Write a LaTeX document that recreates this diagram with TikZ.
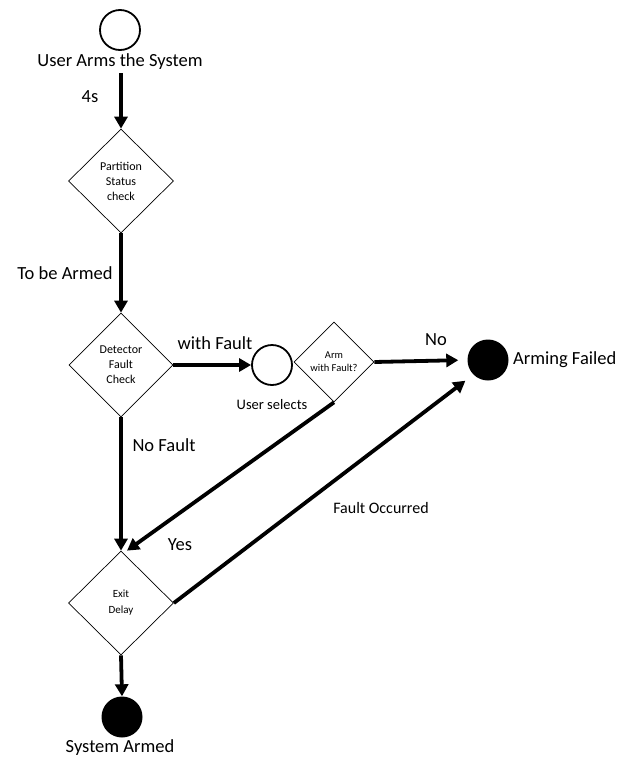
\documentclass[tikz,border=0pt]{standalone}
\usepackage{fontspec}
\setmainfont{Carlito}
\usetikzlibrary{shapes.geometric,arrows.meta,calc}
\tikzset{
  dia/.style={draw, line width=0.7pt, diamond, aspect=1, inner sep=0pt, align=center, font=\fontsize{12}{15}\selectfont},
  startc/.style={draw, circle, line width=1.8pt, minimum size=40pt, inner sep=0pt},
  endc/.style={fill=black, circle, minimum size=41pt, inner sep=0pt},
  flow/.style={line width=3.8pt, -{Triangle[length=12pt,width=13pt]}},
  big/.style={font=\fontsize{18.5}{20}\selectfont, inner sep=0pt},
  mid/.style={font=\fontsize{16}{18}\selectfont, inner sep=0pt},
  small/.style={font=\fontsize{14.5}{16}\selectfont, inner sep=0pt},
}
\begin{document}
\begin{tikzpicture}[x=1pt,y=-1pt]
\useasboundingbox (0,0) rectangle (619,758);
% start
\node[startc] (start) at (120,30) {};
\node[big] (startlbl) at (120,62) {User Arms the System};
% diamonds
\node[dia, minimum width=105pt, minimum height=104pt] (d1) at (121,181) {Partition\\Status\\check};
\node[dia, minimum width=104pt, minimum height=104pt] (d2) at (121,365) {Detector\\Fault\\Check};
\node[dia, minimum width=80pt, minimum height=80pt, font=\fontsize{10.5}{13}\selectfont] (d3) at (334,362) {Arm\\with Fault?};
\node[dia, minimum width=105pt, minimum height=104pt, font=\fontsize{11}{16}\selectfont] (d4) at (121,603) {Exit\\Delay};
% circles
\node[startc] (sel) at (272,365) {};
\node[small] (sellbl) at (272,405) {User selects};
\node[endc] (fail) at (488,360) {};
\node[big, anchor=west] (faillbl) at (513,360) {Arming Failed};
\node[endc] (armed) at (122,717) {};
\node[big] (armedlbl) at (120,748) {System Armed};
\coordinate (s0) at (121,73);
\coordinate (yesend) at ($(d4.north)+(6,0)$);
% connectors
\draw[flow] (s0) -- (d1.north);
\draw[flow] (d1.south) -- (d2.north);
\draw[flow] (d2.east) -- (sel.west);
\draw[flow, shorten >=9pt] (d3.east) -- (fail.west);
\draw[flow] (d2.south) -- (d4.north);
\draw[flow] (d3.south) -- (yesend);
\draw[flow, shorten >=10pt] (d4.east) -- (fail.south west);
\draw[flow] (d4.south) -- (armed.north);
% labels
\node[big] (l4s) at (90,97) {4s};
\node[big] (ltba) at (65,273) {To be Armed};
\node[big] (lwf) at (215,343) {with Fault};
\node[big] (lno) at (436,340) {No};
\node[big] (lnf) at (164,445) {No Fault};
\node[big] (lyes) at (180,545) {Yes};
\node[mid] (lfo) at (381,508) {Fault Occurred};
\end{tikzpicture}
\end{document}
